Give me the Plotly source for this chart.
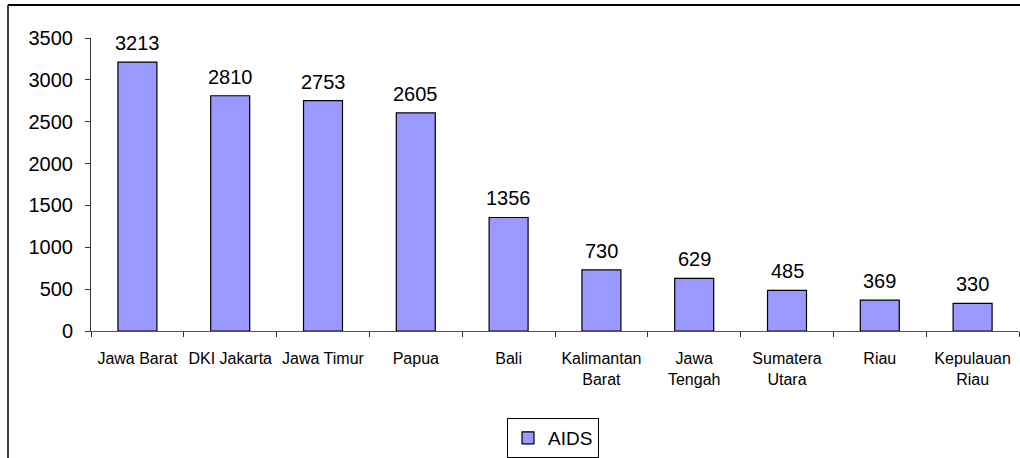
import plotly.graph_objects as go

categories = ["Jawa Barat", "DKI Jakarta", "Jawa Timur", "Papua", "Bali",
              "Kalimantan Barat", "Jawa Tengah", "Sumatera Utara", "Riau", "Kepulauan Riau"]
tick_labels = ["Jawa Barat", "DKI Jakarta", "Jawa Timur", "Papua", "Bali",
               "Kalimantan<br>Barat", "Jawa<br>Tengah", "Sumatera<br>Utara", "Riau", "Kepulauan<br>Riau"]
aids = [3213, 2810, 2753, 2605, 1356, 730, 629, 485, 369, 330]
y_ticks = [0, 500, 1000, 1500, 2000, 2500, 3000, 3500]

W, H = 1020, 458
L, R, T, B = 91, 1, 38, 127
FONT = "Liberation Sans, Arial"

fig = go.Figure()
fig.add_trace(go.Bar(
    x=categories, y=aids, name="AIDS",
    marker=dict(color="#9999FF", line=dict(color="#000000", width=1.2)),
    width=0.42,
    cliponaxis=False,
))
for c, v in zip(categories, aids):
    fig.add_annotation(x=c, y=v, text=str(v), showarrow=False,
                       yanchor="bottom", yshift=6,
                       font=dict(family=FONT, size=20, color="#000000"))

fig.update_layout(
    width=W, height=H,
    margin=dict(l=L, r=R, t=T, b=B, autoexpand=False),
    paper_bgcolor="white", plot_bgcolor="white",
    font=dict(family=FONT, color="#000000"),
    showlegend=True,
    legend=dict(xref="container", yref="container",
                x=553 / W, xanchor="center", y=1 - 418 / H, yanchor="top",
                orientation="h", bordercolor="#000000", borderwidth=1,
                font=dict(size=19, family=FONT),
                itemwidth=30, bgcolor="white"),
)
fig.update_xaxes(
    tickmode="array", tickvals=categories, ticktext=tick_labels,
    tickfont=dict(family=FONT, size=16), tickangle=0,
    showline=True, linecolor="#555555", linewidth=1,
    ticks="outside", ticklen=5, tickcolor="#333333",
    tickson="boundaries", showgrid=False, ticklabelstandoff=13,
)
fig.update_yaxes(
    range=[0, 3500], tickvals=y_ticks,
    tickfont=dict(family=FONT, size=20),
    showline=True, linecolor="#333333", linewidth=1,
    ticks="outside", ticklen=5, tickcolor="#333333",
    showgrid=False, zeroline=False, ticklabelstandoff=8,
)

# outer chart frame (top and left edges visible)
pw = W - L - R
ph = H - T - B
x0 = (8 - L) / pw
y0 = 1 + (T - 5) / ph
yb = -(B + 5) / ph
fig.add_shape(type="line", xref="paper", yref="paper", x0=x0, x1=1 + (R + 5) / pw,
              y0=y0, y1=y0, line=dict(color="#000000", width=2))
fig.add_shape(type="line", xref="paper", yref="paper", x0=x0, x1=x0,
              y0=y0, y1=yb, line=dict(color="#000000", width=1.5))

fig.write_html("out.html", config={"displayModeBar": False},
               post_script="document.body.style.margin='0px';document.body.style.overflow='hidden';")
